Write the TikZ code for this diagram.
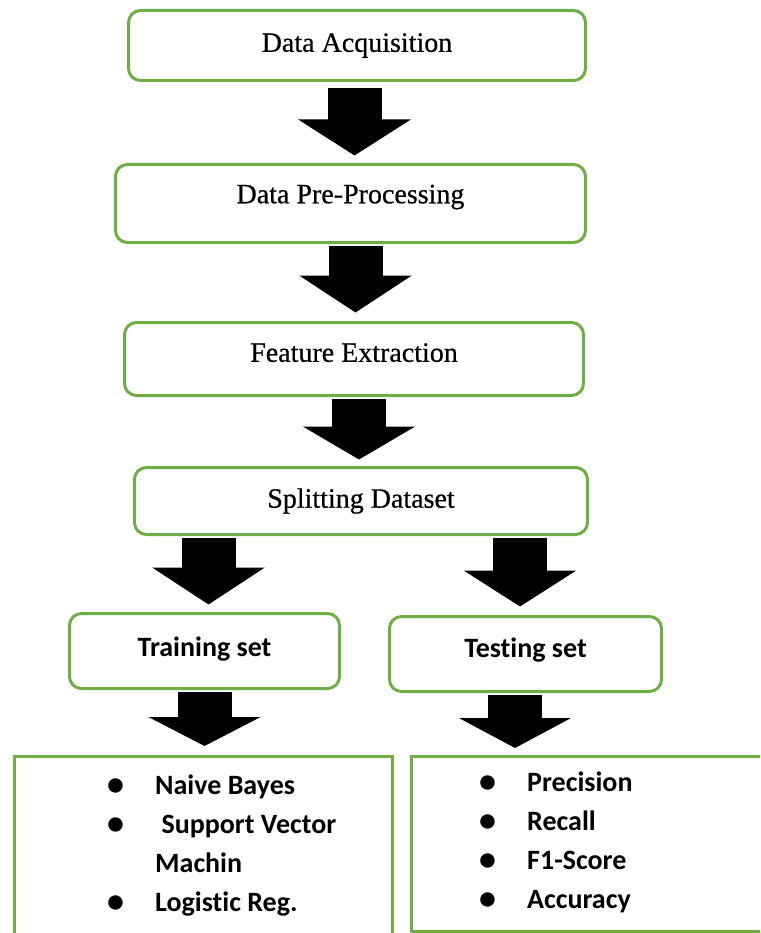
\documentclass[tikz,border=0pt]{standalone}
\usepackage{fontspec}
\setmainfont[FakeBold=0.6]{Liberation Serif}
\newfontfamily\calibriFont[Ligatures=NoCommon]{Carlito}
\usetikzlibrary{arrows.meta, positioning}
\definecolor{cBoxDraw}{RGB}{112, 173, 71}
\newcommand{\itemDot}{\raisebox{-1pt}{\fontsize{34}{34}\selectfont\textbullet}}
\tikzset{
    % --- block styles ---
    baseBlock/.style={
        rectangle, draw=cBoxDraw, line width=3pt, fill=white,
        align=center, inner sep=0pt
    },
    % pipeline steps (serif)
    styleStep/.style={
        baseBlock, rounded corners=12pt, font=\fontsize{28}{34}\selectfont
    },
    % train / test sets (sans, bold)
    styleSet/.style={
        baseBlock, rounded corners=12pt,
        font=\calibriFont\bfseries\fontsize{28}{34}\selectfont
    },
    % bottom lists
    styleList/.style={baseBlock, rounded corners=0pt},
    styleItems/.style={
        inner sep=0pt, anchor=base west,
        font=\calibriFont\bfseries\fontsize{28}{39}\selectfont
    },
    % --- block arrows ---
    conn/.style={
        draw=black, line width=54pt,
        -{Triangle[length=#1, width=111pt]}
    },
    conn/.default=35pt
}

\begin{document}
\begin{tikzpicture}[x=1pt, y=-1pt]
	\useasboundingbox (0,0) rectangle (760,933);
	\clip (0,0) rectangle (760,933);

	% =========================================================
	% 1. Pipeline steps
	% =========================================================
	\node[styleStep, minimum width=457pt, minimum height=70pt] (acq) at (357,45.5) {Data Acquisition};
	\node[styleStep, minimum width=470pt, minimum height=78pt, text depth=19pt] (prep) at (350.5,203.5) {Data Pre-Processing};
	\node[styleStep, minimum width=459pt, minimum height=73pt, text depth=13pt] (feat) at (354,359) {Feature Extraction};
	\node[styleStep, minimum width=453pt, minimum height=67pt] (split) at (361,501) {Splitting Dataset};

	% =========================================================
	% 2. Train / test
	% =========================================================
	\node[styleSet, minimum width=270pt, minimum height=75pt, text depth=9pt] (train) at (204.5,651) {Training set};
	\node[styleSet, minimum width=272pt, minimum height=75pt, text depth=12pt] (test) at (525.5,654) {Testing set};

	% --- lists ---
	\node[styleList, minimum width=378pt, minimum height=200pt, anchor=north west] (trainList) at (12.5,754.5) {};
	\node[styleList, minimum width=400pt, minimum height=175pt, anchor=north west] (testList) at (409.5,754.5) {};

	\node[styleItems] (trainItems) at (107,794) {%
		\begin{tabular}[t]{@{}p{48pt}@{}l@{}}
			\itemDot & Naive Bayes\\
			\itemDot & \ Support Vector\\
			         & Machin\\
			\itemDot & Logistic Reg.
		\end{tabular}};
	\node[styleItems] (testItems) at (479,791) {%
		\begin{tabular}[t]{@{}p{48pt}@{}l@{}}
			\itemDot & Precision\\
			\itemDot & Recall\\
			\itemDot & F1-Score\\
			\itemDot & Accuracy
		\end{tabular}};

	% =========================================================
	% 3. Block arrows
	% =========================================================
	\draw[conn=36pt, shorten <=6.5pt, shorten >=7.5pt] ([xshift=-2.5pt]acq.south) -- ([xshift=-2.5pt]acq.south |- prep.north);
	\draw[conn=37pt, shorten <=1.5pt, shorten >=8.5pt] ([xshift=5pt]prep.south) -- ([xshift=5pt]prep.south |- feat.north);
	\draw[conn=33pt, shorten <=1.5pt, shorten >=6.5pt] ([xshift=5pt]feat.south) -- ([xshift=5pt]feat.south |- split.north);
	\draw[conn=37pt, shorten <=1.5pt, shorten >=7.5pt] ([xshift=4pt]train.north |- split.south) -- ([xshift=4pt]train.north);
	\draw[conn=36pt, shorten <=1.5pt, shorten >=8.5pt] ([xshift=-5.5pt]test.north |- split.south) -- ([xshift=-5.5pt]test.north);
	\draw[conn=29pt, shorten <=1.5pt, shorten >=8.5pt] (train.south) -- (train.south |- trainList.north);
	\draw[conn=30pt, shorten <=1.5pt, shorten >=6.5pt] ([xshift=-10.5pt]test.south) -- ([xshift=-10.5pt]test.south |- testList.north);

\end{tikzpicture}
\end{document}
